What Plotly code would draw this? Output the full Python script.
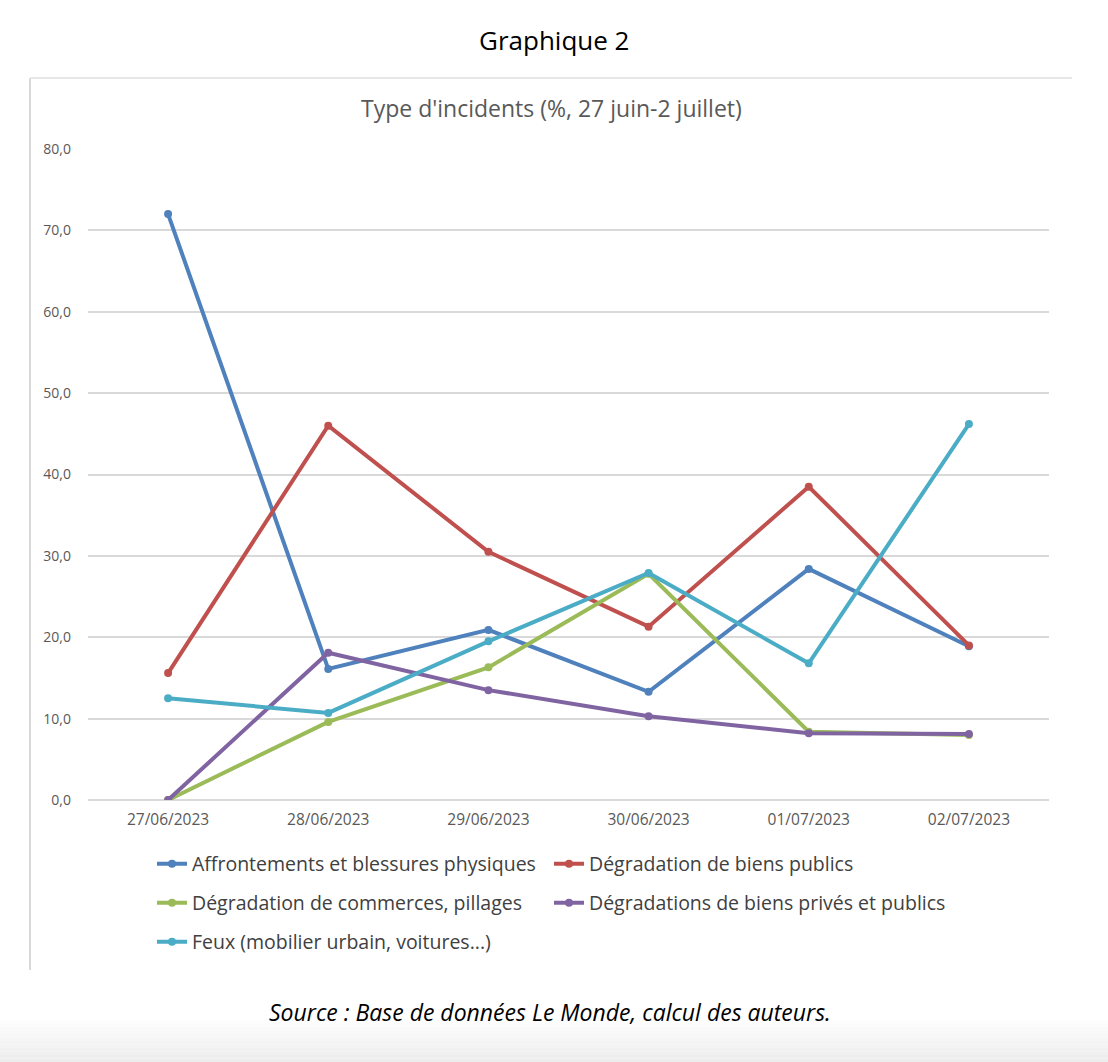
import plotly.graph_objects as go

dates = ["27/06/2023", "28/06/2023", "29/06/2023", "30/06/2023", "01/07/2023", "02/07/2023"]

affrontements = [72.0, 16.1, 20.9, 13.3, 28.4, 18.9]
degr_publics = [15.6, 46.0, 30.5, 21.3, 38.5, 19.0]
degr_commerces = [0.0, 9.6, 16.3, 27.8, 8.4, 8.0]
degr_prives_publics = [0.0, 18.1, 13.5, 10.3, 8.2, 8.1]
feux = [12.5, 10.7, 19.5, 27.9, 16.8, 46.2]

series_names = [
    "Affrontements et blessures physiques",
    "Dégradation de biens publics",
    "Dégradation de commerces, pillages",
    "Dégradations de biens privés et publics",
    "Feux (mobilier urbain, voitures...)",
]
series_values = [affrontements, degr_publics, degr_commerces, degr_prives_publics, feux]
series_colors = ["#4F81BD", "#C0504D", "#9BBB59", "#8064A2", "#4BACC6"]
series_legend = ["legend", "legend", "legend2", "legend2", "legend3"]

W, H = 1108, 1062
FONT = "Open Sans"

fig = go.Figure()
for name, vals, col, lg in zip(series_names, series_values, series_colors, series_legend):
    fig.add_trace(go.Scatter(
        x=dates, y=vals, name=name, mode="lines+markers",
        line=dict(color=col, width=4),
        marker=dict(color=col, size=8),
        legend=lg,
    ))

def px_x(p):
    return p / W

def px_y(p):
    return 1 - p / H

legend_common = dict(
    orientation="h", xanchor="left", yanchor="middle",
    xref="container", yref="container",
    font=dict(family=FONT, size=19.5, color="#404040"),
    entrywidth=352, entrywidthmode="pixels",
    bgcolor="rgba(0,0,0,0)", itemwidth=30,
)

shapes = []
# subtle bottom gradient
n = 12
for i in range(n):
    y0 = 1020 + i * (H - 1020) / n
    g = int(255 - (i + 1) * 18 / n)
    shapes.append(dict(type="rect", xref="paper", yref="paper",
                       x0=0, x1=1, y0=px_y(y0 + (H - 1020) / n), y1=px_y(y0),
                       line=dict(width=0), fillcolor=f"rgb({g},{g},{g})", layer="below"))
# chart frame (left and top borders)
shapes.append(dict(type="line", xref="paper", yref="paper",
                   x0=px_x(30), x1=px_x(30), y0=px_y(970), y1=px_y(78),
                   line=dict(color="#D9D9D9", width=2)))
shapes.append(dict(type="line", xref="paper", yref="paper",
                   x0=px_x(30), x1=px_x(1072), y0=px_y(78), y1=px_y(78),
                   line=dict(color="#E6E6E6", width=2)))

fig.update_layout(
    width=W, height=H,
    margin=dict(l=0, r=0, t=0, b=0, autoexpand=False),
    paper_bgcolor="white", plot_bgcolor="white",
    separators=", ",
    font=dict(family=FONT, color="#595959"),
    xaxis=dict(
        domain=[px_x(88), px_x(1049)], range=[-0.5, 5.5], automargin=False,
        type="category", showgrid=False, showline=False, zeroline=False,
        tickfont=dict(family=FONT, size=15.5, color="#595959"),
        ticks="", ticklabelstandoff=8,
    ),
    yaxis=dict(
        domain=[px_y(800), px_y(149)], automargin=False,
        range=[0, 80], dtick=10, tickformat=".1f",
        showgrid=True, gridcolor="#D9D9D9", gridwidth=1.5,
        zeroline=True, zerolinecolor="#D9D9D9", zerolinewidth=1.5,
        showline=False, ticks="", ticklabelstandoff=16,
        tickfont=dict(family=FONT, size=14, color="#595959"),
    ),
    legend=dict(x=px_x(152), y=px_y(864), **legend_common),
    legend2=dict(x=px_x(152), y=px_y(903), **legend_common),
    legend3=dict(x=px_x(152), y=px_y(942), **legend_common),
    shapes=shapes,
    annotations=[
        dict(text="Graphique 2", x=0.5, y=px_y(40), xref="paper", yref="paper",
             xanchor="center", yanchor="middle",
             showarrow=False, font=dict(family=FONT, size=26, color="black")),
        dict(text="Type d'incidents (%, 27 juin-2 juillet)", x=px_x(551), y=px_y(108),
             xref="paper", yref="paper", xanchor="center", yanchor="middle",
             showarrow=False, font=dict(family=FONT, size=23, color="#595959")),
        dict(text="<i>Source : Base de données Le Monde, calcul des auteurs.</i>",
             x=px_x(550), y=px_y(1012), xref="paper", yref="paper",
             xanchor="center", yanchor="middle", showarrow=False,
             font=dict(family=FONT, size=23, color="black")),
    ],
)

fig.write_html("out.html")
